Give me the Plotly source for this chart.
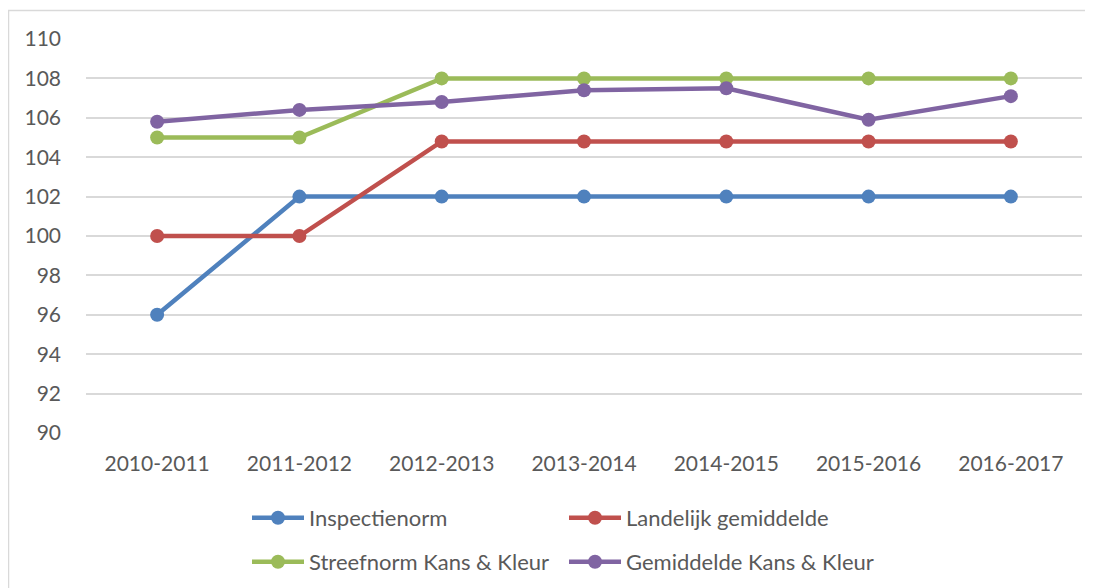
import plotly.graph_objects as go

years = ["2010-2011", "2011-2012", "2012-2013", "2013-2014", "2014-2015", "2015-2016", "2016-2017"]
inspectienorm = [96, 102, 102, 102, 102, 102, 102]
landelijk = [100, 100, 104.8, 104.8, 104.8, 104.8, 104.8]
streefnorm = [105, 105, 108, 108, 108, 108, 108]
gemiddelde = [105.8, 106.4, 106.8, 107.4, 107.5, 105.9, 107.1]
y_ticks = [90, 92, 94, 96, 98, 100, 102, 104, 106, 108, 110]

series = [
    ("Inspectienorm", inspectienorm, "#4F81BD", "legend"),
    ("Landelijk gemiddelde", landelijk, "#C0504D", "legend"),
    ("Streefnorm Kans & Kleur", streefnorm, "#9BBB59", "legend2"),
    ("Gemiddelde Kans & Kleur", gemiddelde, "#8064A2", "legend2"),
]

FONT = "Lato, 'Open Sans', sans-serif"
TXT = "#595959"

# page body has an 8px margin, so the figure is drawn 8px right/down of the window origin
OFF = 8
PL, PR, PT, PB = 86 - OFF, 1082 - OFF, 39 - OFF, 433 - OFF  # plot area in figure coords
W, H = 1093 - OFF, 588 - OFF
PW, PH = PR - PL, PB - PT

def px_x(x):
    return (x - OFF - PL) / PW

def px_y(y):
    return (PB - (y - OFF)) / PH

fig = go.Figure()
for name, vals, col, lg in series:
    fig.add_trace(go.Scatter(
        x=years, y=vals, name=name, mode="lines+markers",
        line=dict(color=col, width=4.5),
        marker=dict(color=col, size=14),
        legend=lg,
    ))

leg_common = dict(orientation="h", xanchor="left", yanchor="middle",
                  entrywidth=250, entrywidthmode="pixels", itemwidth=52,
                  font=dict(family=FONT, size=22, color=TXT), bgcolor="rgba(0,0,0,0)")

fig.update_layout(
    width=W, height=H,
    margin=dict(l=PL, r=W - PR, t=PT, b=H - PB, autoexpand=False),
    paper_bgcolor="white", plot_bgcolor="white",
    font=dict(family=FONT, size=21, color=TXT),
    showlegend=True,
    legend=dict(x=px_x(247), y=px_y(518), **leg_common),
    legend2=dict(x=px_x(247), y=px_y(562), **leg_common),
    xaxis=dict(type="category", range=[-0.5, 6.5], showgrid=False, showline=False,
               zeroline=False, ticks="", ticklabelstandoff=16,
               tickfont=dict(family=FONT, size=21, color=TXT)),
    yaxis=dict(range=[90, 110], tickvals=y_ticks, showgrid=True, gridcolor="#D9D9D9",
               gridwidth=1.5, zeroline=False, showline=False, ticks="",
               ticklabelstandoff=24,
               tickfont=dict(family=FONT, size=21, color=TXT)),
    shapes=[dict(type="rect", xref="paper", yref="paper",
                 x0=px_x(8.5), x1=px_x(1110), y0=px_y(610), y1=px_y(10.5),
                 line=dict(color="#D9D9D9", width=1.5), fillcolor="rgba(0,0,0,0)",
                 layer="below")],
)

fig.write_html("out.html")
